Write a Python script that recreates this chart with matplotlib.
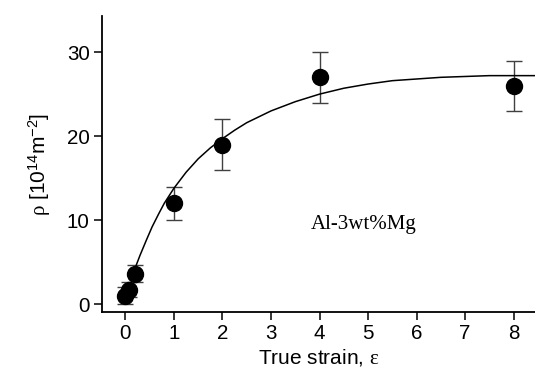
import matplotlib
matplotlib.use("Agg")
import matplotlib.pyplot as plt

plt.rcParams['font.family'] = ['Liberation Sans', 'DejaVu Sans']
plt.rcParams['mathtext.fontset'] = 'custom'
plt.rcParams['mathtext.rm'] = 'Liberation Sans'
plt.rcParams['mathtext.it'] = 'Liberation Serif'

# measured dislocation density
strain = [0.0, 0.07, 0.2, 1.0, 2.0, 4.0, 8.0]
rho = [1.0, 1.7, 3.6, 12.0, 19.0, 27.0, 26.0]
rho_err = [1.0, 0.9, 1.0, 2.0, 3.0, 3.0, 3.0]

# fitted curve
fit_strain = [0.2, 0.3, 0.43, 0.55, 0.69, 0.8, 1.0, 1.25, 1.5, 1.75, 2.0,
              2.25, 2.5, 2.75, 3.0, 3.5, 4.0, 4.5, 5.0, 5.5, 6.0, 6.5,
              7.0, 7.5, 8.5]
fit_rho = [4.3, 5.8, 7.6, 9.2, 10.8, 12.0, 13.8, 15.7, 17.3, 18.6, 19.7,
           20.7, 21.6, 22.3, 23.0, 24.1, 25.0, 25.7, 26.2, 26.6, 26.8, 27.0,
           27.1, 27.2, 27.2]

fig = plt.figure(figsize=(5.35, 3.72), dpi=100)
ax = fig.add_axes([0.19, 0.161, 0.81, 0.796])

ax.plot(fit_strain, fit_rho, color='black', lw=1.1, zorder=2,
        solid_joinstyle='round')
ax.errorbar(strain, rho, yerr=rho_err, fmt='none', ecolor='#404040',
            elinewidth=1.0, capsize=6, capthick=1.0, zorder=1)
ax.plot(strain, rho, 'o', color='black', markersize=11.5, zorder=3)

ax.text(4.91, 8.9, 'Al-3wt%Mg', family='Liberation Serif', fontsize=15,
        ha='center', va='baseline')

ax.set_xlim(-0.49, 8.44)
ax.set_ylim(-0.95, 34.3)
ax.set_xticks(range(0, 9))
ax.set_yticks([0, 10, 20, 30])

for s in ['top', 'right']:
    ax.spines[s].set_visible(False)
for s in ['left', 'bottom']:
    ax.spines[s].set_linewidth(1.3)
ax.tick_params(direction='out', length=6, width=1.1, labelsize=14.8, pad=2.5)

ax.set_xlabel(r'True strain, $\varepsilon$', fontsize=15, labelpad=3)
ax.set_ylabel(r'$\rho$ [10$^{14}$m$^{-2}$]', fontsize=15, labelpad=10)

fig.savefig('out.png', dpi=100)
